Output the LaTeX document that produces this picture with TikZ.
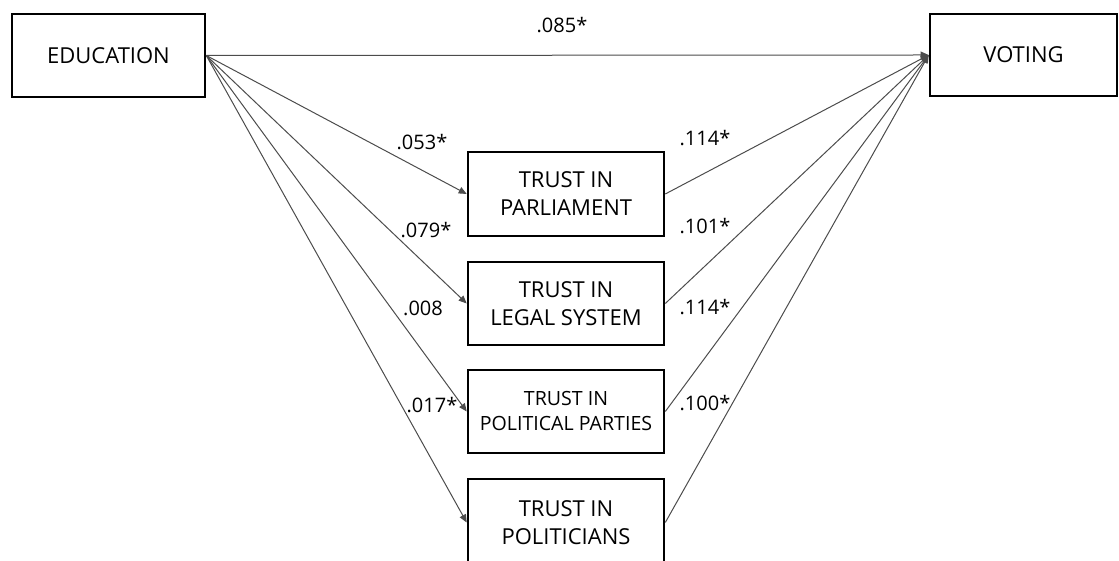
\documentclass[tikz,border=0pt]{standalone}
\usepackage{fontspec}
\setmainfont{Open Sans}
\usetikzlibrary{arrows.meta}

\begin{document}
\begin{tikzpicture}[x=0.5pt,y=0.5pt,>={Triangle[length=4pt,width=3.4pt]},
    var/.style={draw,line width=1.3pt,align=center,minimum width=98pt,minimum height=41.5pt,inner sep=0pt,font=\fontsize{11}{14}\selectfont},
    link/.style={->,draw=black!70,line width=0.5pt},
    coef/.style={font=\fontsize{10}{12}\selectfont,inner sep=0pt}]
            \useasboundingbox (0,0) rectangle (1119,561);
            \node [var,minimum width=96.5pt] (educ) at (108.5,505.5) {EDUCATION};
            \node [var,minimum width=93.5pt,minimum height=41pt] (vote) at (1023.5,506) {VOTING};
            \node [var,minimum height=42pt] (parl) at (566,367) {TRUST IN\\PARLIAMENT};
            \node [var] (legal) at (566,257.5) {TRUST IN\\LEGAL SYSTEM};
            \node [var,font=\fontsize{9.8}{12.5}\selectfont] (party) at (566,149.5) {TRUST IN\\POLITICAL PARTIES};
            \node [var,minimum height=43.5pt] (polit) at (566,38.5) {TRUST IN\\POLITICIANS};
            \node [coef] (c0) at (562,536) {.085*};
            \node [coef] (a1) at (422,419) {.053*};
            \node [coef] (a2) at (426,331) {.079*};
            \node [coef] (a3) at (423,253) {.008};
            \node [coef] (a4) at (432,156) {.017*};
            \node [coef] (b1) at (705,423) {.114*};
            \node [coef] (b2) at (705,335) {.101*};
            \node [coef] (b3) at (705,254) {.114*};
            \node [coef] (b4) at (705,158) {.100*};
            \draw [link] (educ.east) -- (vote.west);
            \foreach \m in {parl,legal,party,polit} {
                \draw [link] (educ.east) -- (\m.west);
                \draw [link] (\m.east) -- (vote.west);
            }
\end{tikzpicture}
\end{document}
